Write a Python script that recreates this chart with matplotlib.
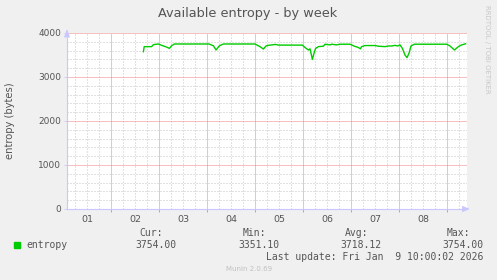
import matplotlib
matplotlib.use('Agg')
import matplotlib.pyplot as plt
from matplotlib.ticker import MultipleLocator, FixedLocator

plt.rcParams['lines.scale_dashes'] = False

# hours since Jan 01 00:00
hours = [40.2, 40.6, 44.3, 45.2, 47.7, 49.3, 51.8, 53.2, 54.3, 55.7, 73.0,
         75.2, 76.5, 78.2, 80.2, 96.0, 98.5, 100.2, 101.5, 102.7, 106.3,
         107.7, 116.0, 119.7, 121.0, 122.7, 123.5, 124.7, 125.5, 126.3,
         127.7, 130.2, 131.0, 133.5, 134.3, 136.8, 138.5, 143.5, 145.7,
         147.7, 148.7, 149.3, 151.0, 156.0, 157.7, 161.0, 162.7, 164.5,
         166.0, 167.3, 168.5, 169.7, 171.0, 172.0, 173.0, 174.0, 175.7,
         191.8, 193.5, 195.7, 197.7, 199.3, 201.3]
entropy = [3575, 3690, 3690, 3735, 3750, 3720, 3680, 3650, 3710, 3750, 3750,
           3710, 3614, 3710, 3750, 3750, 3690, 3636, 3705, 3720, 3740,
           3725, 3725, 3725, 3670, 3614, 3640, 3400, 3540, 3650,
           3690, 3700, 3745, 3730, 3745, 3730, 3745, 3745, 3700,
           3670, 3640, 3690, 3715, 3715, 3700, 3690, 3705, 3705,
           3720, 3705, 3730, 3650, 3500, 3440, 3540, 3705, 3745,
           3745, 3705, 3614, 3690, 3730, 3754]
day_labels = ['01', '02', '03', '04', '05', '06', '07', '08']
stat_names = ['Cur:', 'Min:', 'Avg:', 'Max:']
stat_values = ['3754.00', '3351.10', '3718.12', '3754.00']

W, H = 497, 280
bg = '#F0F0F0'
txt = '#555555'
axis_col = '#C8C8FF'
major_col = '#F08080'


def fx(x):
    return x / W


def fy(y):
    return 1 - y / H


fig = plt.figure(figsize=(W / 100, H / 100), dpi=100, facecolor=bg)
ax = fig.add_axes([fx(67), fy(209), (467 - 67) / W, (209 - 33) / H])
ax.set_facecolor('white')

ax.plot(hours, entropy, color='#00CC00', lw=1.0, zorder=3)

ax.set_xlim(2, 202)
ax.set_ylim(0, 4000)

# minor grid every 6h / 200, major (red) lines at midnight / 1000
ax.xaxis.set_major_locator(MultipleLocator(24))
ax.xaxis.set_minor_locator(FixedLocator([h for h in range(6, 204, 6) if h % 24]))
ax.yaxis.set_major_locator(MultipleLocator(1000))
ax.yaxis.set_minor_locator(FixedLocator([v for v in range(200, 4000, 200) if v % 1000]))
ax.grid(which='minor', color='#C4C4C4', lw=0.72, linestyle=(0, (0.72, 1.44)))
ax.grid(which='major', visible=False)
dots = dict(color=major_col, lw=0.72, linestyle=(0, (0.72, 0.72)), zorder=1)
for h in range(24, 202, 24):
    ax.axvline(h, **dots)
for v in range(1000, 4001, 1000):
    ax.axhline(v, **dots)
ax.set_axisbelow(True)

ax.set_xticklabels([])
ax.tick_params(axis='x', which='major', length=2, color=major_col, width=0.6)
ax.tick_params(axis='x', which='minor', length=0)
ax.tick_params(axis='y', which='major', length=2, color=axis_col, width=0.6,
               labelsize=6.5, labelcolor=txt, pad=2)
ax.tick_params(axis='y', which='minor', length=0)

for s in ['top', 'right']:
    ax.spines[s].set_visible(False)
for s in ['left', 'bottom']:
    ax.spines[s].set_color(axis_col)
    ax.spines[s].set_linewidth(0.8)
    ax.spines[s].set_zorder(2)

# axis arrows
arrow = dict(arrowstyle='-|>,head_length=0.6,head_width=0.25',
             color=axis_col, lw=0.8, mutation_scale=7)
ax.annotate('', xy=(1.014, 0), xytext=(0.99, 0), xycoords='axes fraction',
            arrowprops=arrow)
ax.annotate('', xy=(0, 1.035), xytext=(0, 0.99), xycoords='axes fraction',
            arrowprops=arrow)

# day labels at noon
for i, lab in enumerate(day_labels):
    ax.text(12 + 24 * i, -0.035, lab, transform=ax.get_xaxis_transform(),
            ha='center', va='top', fontsize=6.8, color=txt)

fig.text(fx(248), fy(13), 'Available entropy - by week', ha='center',
         va='center', fontsize=9.3, color=txt)
fig.text(fx(10), fy(121), 'entropy (bytes)', rotation=90, ha='center',
         va='center', fontsize=7.2, color=txt)
fig.text(fx(487), fy(5), 'RRDTOOL / TOBI OETIKER', rotation=270, ha='center',
         va='top', fontsize=5, color='#C8C8C8')

# legend / stats
mono = 'DejaVu Sans Mono'
name_right = [163, 266, 368, 470]
val_right = [176, 279, 381, 483]
for n, v, nr, vr in zip(stat_names, stat_values, name_right, val_right):
    fig.text(fx(nr), fy(233), n, ha='right', va='center', family=mono,
             fontsize=7, color=txt)
    fig.text(fx(vr), fy(244.5), v, ha='right', va='center', family=mono,
             fontsize=7, color=txt)
fig.patches.append(plt.Rectangle((fx(14), fy(247.5)), 6 / W, 6 / H,
                                 transform=fig.transFigure, color='#00CC00'))
fig.text(fx(26), fy(244.5), 'entropy', ha='left', va='center', family=mono,
         fontsize=7, color=txt)
fig.text(fx(483), fy(256.5), 'Last update: Fri Jan  9 10:00:02 2026',
         ha='right', va='center', family=mono, fontsize=7, color=txt)
fig.text(fx(249), fy(269), 'Munin 2.0.69', ha='center', va='center',
         fontsize=5, color='#C0C0C0')

fig.savefig('out.png', dpi=100, facecolor=bg)
